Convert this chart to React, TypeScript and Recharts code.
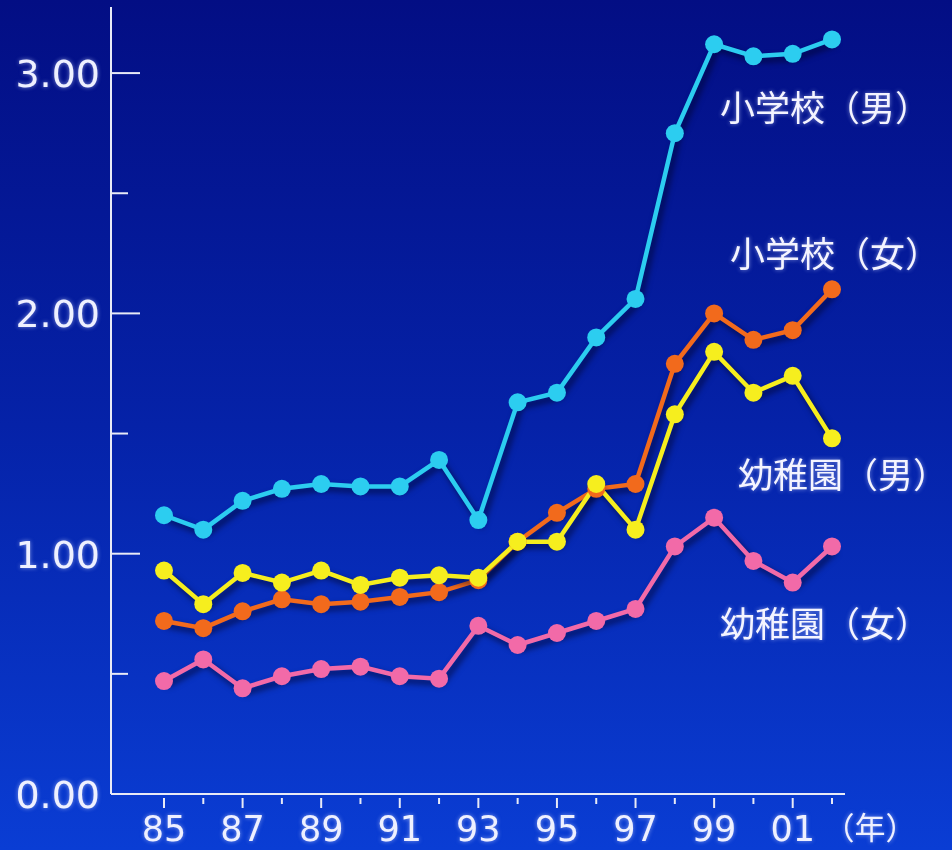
import { LineChart, Line, XAxis, YAxis } from 'recharts';

const years = ['85', '86', '87', '88', '89', '90', '91', '92', '93', '94', '95', '96', '97', '98', '99', '00', '01', '02'];
const boysElementary = [1.16, 1.1, 1.22, 1.27, 1.29, 1.28, 1.28, 1.39, 1.14, 1.63, 1.67, 1.9, 2.06, 2.75, 3.12, 3.07, 3.08, 3.14];
const girlsElementary = [0.72, 0.69, 0.76, 0.81, 0.79, 0.8, 0.82, 0.84, 0.89, 1.05, 1.17, 1.27, 1.29, 1.79, 2.0, 1.89, 1.93, 2.1];
const boysKindergarten = [0.93, 0.79, 0.92, 0.88, 0.93, 0.87, 0.9, 0.91, 0.9, 1.05, 1.05, 1.29, 1.1, 1.58, 1.84, 1.67, 1.74, 1.48];
const girlsKindergarten = [0.47, 0.56, 0.44, 0.49, 0.52, 0.53, 0.49, 0.48, 0.7, 0.62, 0.67, 0.72, 0.77, 1.03, 1.15, 0.97, 0.88, 1.03];
const yTicks = [0, 0.5, 1, 1.5, 2, 2.5, 3];

const data = years.map((year, i) => ({
  year,
  boysElementary: boysElementary[i],
  girlsElementary: girlsElementary[i],
  boysKindergarten: boysKindergarten[i],
  girlsKindergarten: girlsKindergarten[i],
}));

const AXIS = '#e8eaf6';
const LABEL_FONT = '"Noto Sans CJK JP", "Noto Sans", sans-serif';
const NUM_FONT = '"DejaVu Sans", sans-serif';

function YTick({ x, y, payload }: any) {
  const major = Number.isInteger(payload.value);
  return (
    <g>
      <line x1={x} x2={x + (major ? 29 : 17)} y1={y} y2={y} stroke={AXIS} strokeWidth={2} />
      {major && (
        <text className="glow" x={x - 11} y={y + 14} textAnchor="end" fill="#eef0ff" fontSize={38} fontFamily={NUM_FONT}>
          {payload.value.toFixed(2)}
        </text>
      )}
    </g>
  );
}

function XTick({ x, y, payload, index }: any) {
  const major = index % 2 === 0;
  const last = index === years.length - 1;
  return (
    <g>
      <line x1={x} x2={x} y1={y + 4} y2={y + (major ? 14 : 10)} stroke={AXIS} strokeWidth={2} />
      {major && (
        <text className="glow" x={x} y={y + 47} textAnchor="middle" fill="#eef0ff" fontSize={35} fontFamily={NUM_FONT}>
          {payload.value}
        </text>
      )}
      {last && (
        <text className="glow" x={x + 38} y={y + 45} textAnchor="middle" fill="#eef0ff" fontSize={31} fontFamily={LABEL_FONT}>
          （年）
        </text>
      )}
    </g>
  );
}

// name label drawn next to the last point of each line
const endLabel = (text: string, dx: number, dy: number) => (props: any) => {
  if (props.index !== years.length - 1) return null;
  return (
    <text
      key="end"
      className="glow"
      x={props.x + dx}
      y={props.y + dy}
      dominantBaseline="central"
      fill="#f4f4ff"
      fontSize={35}
      fontFamily={LABEL_FONT}
    >
      {text}
    </text>
  );
};

export default function App() {
  const dot = (color: string) => ({ r: 9, fill: color, stroke: 'none' });
  return (
    <div
      style={{
        position: 'absolute',
        left: 0,
        top: 0,
        width: 952,
        height: 850,
        background: 'linear-gradient(to bottom, #030e84 0%, #0522a8 50%, #0a3dd4 100%)',
      }}
    >
      <style>
        {'.recharts-line { filter: drop-shadow(3px 4px 3px rgba(0, 0, 30, 0.7)); } .glow { filter: drop-shadow(0 0 2px rgba(200, 210, 255, 0.6)); }'}
      </style>
      <LineChart width={952} height={850} data={data} margin={{ top: 7, right: 107, bottom: 0, left: 0 }}>
        <XAxis
          dataKey="year"
          height={56}
          interval={0}
          tickSize={0}
          tickMargin={0}
          padding={{ left: 53, right: 13 }}
          axisLine={{ stroke: AXIS, strokeWidth: 2 }}
          tick={<XTick />}
        />
        <YAxis
          type="number"
          width={111}
          domain={[0, 3.275]}
          ticks={yTicks}
          tickSize={0}
          tickMargin={0}
          axisLine={{ stroke: AXIS, strokeWidth: 2 }}
          tick={<YTick />}
        />
        <Line
          dataKey="boysElementary"
          stroke="#2ccdf0"
          strokeWidth={4.5}
          dot={dot('#2ccdf0')}
          activeDot={false}
          isAnimationActive={false}
          label={endLabel('小学校（男）', -112, 66)}
        />
        <Line
          dataKey="girlsElementary"
          stroke="#f26a1c"
          strokeWidth={4.5}
          dot={dot('#f26a1c')}
          activeDot={false}
          isAnimationActive={false}
          label={endLabel('小学校（女）', -102, -38)}
        />
        <Line
          dataKey="boysKindergarten"
          stroke="#f6ee1e"
          strokeWidth={4.5}
          dot={dot('#f6ee1e')}
          activeDot={false}
          isAnimationActive={false}
          label={endLabel('幼稚園（男）', -94, 34)}
        />
        <Line
          dataKey="girlsKindergarten"
          stroke="#f26aa8"
          strokeWidth={4.5}
          dot={dot('#f26aa8')}
          activeDot={false}
          isAnimationActive={false}
          label={endLabel('幼稚園（女）', -112, 75)}
        />
      </LineChart>
    </div>
  );
}
